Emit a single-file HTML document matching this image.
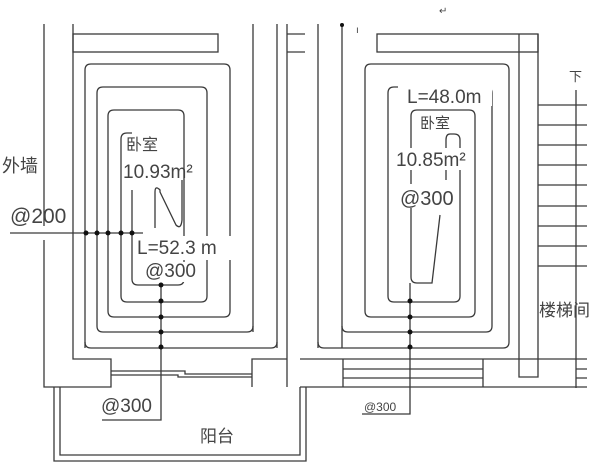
<!DOCTYPE html>
<html><head><meta charset="utf-8"><style>
html,body{margin:0;padding:0;background:#fff;}
svg{display:block}
text{font-family:"Liberation Sans","Noto Sans CJK SC",sans-serif;fill:#444}
</style></head><body>
<svg width="600" height="471" viewBox="0 0 600 471" xmlns="http://www.w3.org/2000/svg">
<g stroke="#3a3a3a" stroke-width="1.3" fill="none">
<!-- left room walls -->
<path d="M44 24 V226 M44 240 V387 H111 V359 H73 V24"/>
<rect x="73" y="34" width="145" height="18"/>
<path d="M287 34 H305 M287 52 H305"/>
<path d="M253 24 V332 M277 24 V348"/>
<path d="M287 24 V359 H252 V387 M287 359 V387"/>
<path d="M111 371 H185 V374 H252 M111 375 H178 V377 H252"/>
<!-- balcony -->
<path d="M54 387 V461 H306 V387 M60 387 V455 H300 V387"/>
<!-- left spiral -->
<path d="M85 348 V70 Q85 64 91 64 H224 Q230 64 230 70 V311 Q230 317 224 317 H114 Q108 317 108 311 V116 Q108 110 114 110 H178 Q184 110 184 116 V279 Q184 285 178 285 H138 Q132 285 132 279 V190"/>
<path d="M85 342 Q85 348 91 348 H271 Q277 348 277 342"/>
<path d="M97 326 V93 Q97 87 103 87 H201 Q207 87 207 93 V296 Q207 302 201 302 H127 Q121 302 121 296 V139 Q121 133 127 133 H132"/>
<path d="M97 326 Q97 332 103 332 H247 Q253 332 253 326"/>
<path d="M155 228 V192 Q155 185 160 190 L160 192 L176 225 Q181 230 182 220 V180"/>
<!-- pipes left -->
<path d="M10 233 H143 M161 285 V420 H102"/>
<!-- right room walls -->
<path d="M318 24 V348 M342 24 V348"/>
<rect x="377" y="34" width="161" height="18"/>
<path d="M519 34 V377 H538 V34"/>
<path d="M300 359 H587 M300 387 H587 M343 359 V387 M483 359 V387 M343 369 H483 M343 378 H483"/>
<path d="M576 90 V388 M576 369 H587 M576 378 H587"/>
<path d="M538 105 H587 M538 125 H587 M538 145 H587 M538 165 H587 M538 185 H587 M538 206 H587 M538 226 H587 M538 246 H587 M538 266 H587"/>
<!-- right spiral -->
<path d="M318 342 Q318 348 324 348 H503 Q509 348 509 342 V70 Q509 64 503 64 H371 Q365 64 365 70 V311 Q365 317 371 317 H469 Q475 317 475 311 V116 Q475 110 469 110 H417 Q411 110 411 116 V277 Q411 283 417 283 H432 L440 215"/>
<path d="M342 326 Q342 332 348 332 H486 Q492 332 492 326 V93 Q492 87 486 87 H394 Q388 87 388 93 V296 Q388 302 394 302 H454 Q460 302 460 296 V140 Q460 134 454 134 H450 Q446 134 446 140 V180"/>
<path d="M410 283 V414 H362"/>
</g>
<g fill="#111">
<circle cx="86" cy="233" r="2.5"/><circle cx="97" cy="233" r="2.5"/><circle cx="108" cy="233" r="2.5"/><circle cx="121" cy="233" r="2.5"/><circle cx="132" cy="233" r="2.5"/>
<circle cx="161" cy="285" r="2.5"/><circle cx="161" cy="301" r="2.5"/><circle cx="161" cy="317" r="2.5"/><circle cx="161" cy="332" r="2.5"/><circle cx="161" cy="347" r="2.5"/>
<circle cx="410" cy="301" r="2.5"/><circle cx="410" cy="317" r="2.5"/><circle cx="410" cy="332" r="2.5"/><circle cx="410" cy="347" r="2.5"/>
<circle cx="342" cy="25" r="2"/>
</g>
<rect x="135" y="236" width="100" height="24" fill="#fff"/>
<rect x="142" y="262" width="62" height="20" fill="#fff"/>
<rect x="398" y="86" width="94" height="20" fill="#fff"/>
<rect x="395" y="148" width="70" height="22" fill="#fff"/>
<rect x="398" y="184" width="58" height="24" fill="#fff"/>
<text x="2" y="172" font-size="18">外墙</text>
<text x="10" y="223" font-size="21">@200</text>
<text x="126" y="150" font-size="16">卧室</text>
<text x="123" y="178" font-size="19">10.93m²</text>
<text x="137" y="254" font-size="19">L=52.3  m</text>
<text x="145" y="277" font-size="19">@300</text>
<text x="101" y="412" font-size="19">@300</text>
<text x="200" y="442" font-size="17">阳台</text>
<text x="407" y="103" font-size="19">L=48.0m</text>
<text x="420" y="128" font-size="15">卧室</text>
<text x="396" y="166" font-size="19">10.85m²</text>
<text x="400" y="205" font-size="20">@300</text>
<text x="364" y="411" font-size="12">@300</text>
<text x="569" y="81" font-size="13">下</text>
<text x="539" y="316" font-size="17">楼梯间</text>
<text x="356" y="33" font-size="10">ı</text>
<text x="439" y="14" font-size="10">↵</text>
</svg>
</body></html>
